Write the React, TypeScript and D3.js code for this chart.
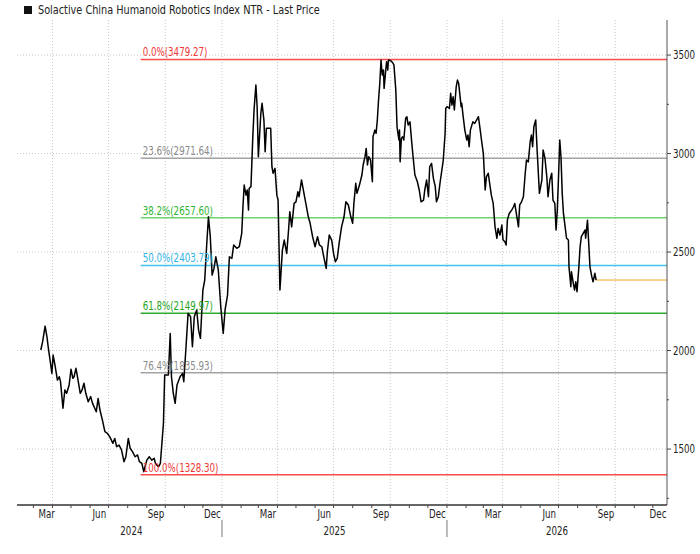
import * as d3 from 'd3';

// days since 2024-01-01, last price
const BASE = new Date(2024, 0, 1);
const closes: [number, number][] = [
  [72, 2003], [75, 2045], [79, 2124], [82, 2070], [84, 2019], [87, 1952], [90, 1884], [92, 1977], [95, 1926], [99, 1850],
  [102, 1867], [104, 1842], [108, 1707], [111, 1800], [114, 1783], [118, 1825], [121, 1905], [124, 1859], [126, 1867], [129, 1910],
  [131, 1876], [136, 1783], [139, 1800], [142, 1834], [145, 1783], [149, 1740], [153, 1766], [156, 1732], [162, 1689], [165, 1757],
  [168, 1698], [172, 1647], [176, 1588], [180, 1580], [184, 1562], [189, 1529], [192, 1554], [195, 1512], [199, 1520], [203, 1495],
  [207, 1436], [210, 1461], [214, 1554], [217, 1504], [221, 1486], [225, 1461], [229, 1470], [232, 1436], [236, 1427], [239, 1385],
  [244, 1444], [248, 1461], [252, 1444], [256, 1453], [258, 1427], [263, 1410], [266, 1427], [271, 1631], [273, 1876], [279, 1876],
  [282, 2087], [284, 1867], [287, 1783], [290, 1732], [293, 1825], [298, 1867], [302, 1884], [304, 1842], [308, 2037], [311, 2189],
  [315, 2172], [318, 2019], [321, 2172], [325, 2206], [328, 2104], [331, 2062], [335, 2307], [338, 2358], [341, 2527], [344, 2679],
  [347, 2578], [350, 2383], [353, 2417], [356, 2476], [360, 2409], [364, 2222], [368, 2087], [371, 2206], [375, 2282], [378, 2476],
  [382, 2468], [385, 2536], [390, 2519], [394, 2527], [398, 2595], [400, 2730], [402, 2840], [405, 2789], [407, 2815], [409, 2713],
  [410, 2823], [413, 2832], [416, 3085], [418, 3221], [421, 3348], [423, 3238], [425, 2984], [429, 3204], [431, 3255], [434, 3170],
  [436, 3009], [438, 3128], [445, 3128], [447, 2933], [449, 2900], [452, 2925], [455, 2789], [457, 2764], [460, 2307], [462, 2409],
  [464, 2510], [467, 2561], [471, 2493], [474, 2612], [476, 2705], [479, 2628], [483, 2747], [486, 2755], [489, 2806], [491, 2781],
  [495, 2866], [499, 2798], [502, 2747], [506, 2679], [509, 2646], [513, 2578], [517, 2527], [521, 2578], [524, 2536], [528, 2527],
  [530, 2493], [535, 2417], [537, 2502], [540, 2586], [544, 2561], [547, 2493], [550, 2451], [553, 2468], [556, 2544], [560, 2628],
  [564, 2679], [567, 2755], [571, 2739], [575, 2679], [578, 2646], [580, 2747], [583, 2849], [585, 2798], [589, 2840], [593, 2891],
  [595, 2942], [598, 2984], [600, 3026], [602, 2942], [604, 2984], [607, 2967], [610, 2857], [611, 3085], [614, 3119], [616, 3103],
  [618, 3170], [620, 3272], [622, 3356], [624, 3475], [626, 3399], [628, 3424], [629, 3331], [632, 3433], [633, 3466], [635, 3424],
  [636, 3475], [640, 3471], [643, 3461], [645, 3449], [648, 3322], [650, 3136], [653, 3069], [654, 3119], [655, 2958], [657, 3077],
  [659, 3085], [661, 3069], [664, 3179], [666, 3187], [668, 3145], [671, 3161], [674, 3052], [676, 2984], [679, 2891], [683, 2857],
  [686, 2815], [689, 2755], [693, 2764], [695, 2815], [698, 2866], [701, 2781], [703, 2933], [706, 2950], [709, 2874], [712, 2832],
  [714, 2755], [717, 2781], [720, 2857], [722, 2900], [725, 2967], [728, 3103], [729, 3229], [731, 3238], [735, 3229], [737, 3306],
  [739, 3246], [741, 3288], [743, 3221], [746, 3339], [748, 3373], [750, 3356], [752, 3297], [754, 3238], [755, 3255], [757, 3195],
  [760, 3119], [763, 3069], [765, 3094], [767, 3035], [769, 3119], [773, 3161], [776, 3153], [779, 3170], [782, 3187], [785, 3119],
  [787, 3069], [790, 3001], [793, 2815], [795, 2882], [798, 2900], [801, 2832], [803, 2789], [806, 2747], [809, 2628], [812, 2570],
  [814, 2620], [817, 2586], [820, 2637], [822, 2561], [825, 2552], [827, 2536], [829, 2662], [832, 2696], [836, 2713], [839, 2730],
  [841, 2747], [844, 2688], [847, 2628], [849, 2739], [852, 2755], [855, 2781], [858, 2900], [860, 2967], [863, 2958], [866, 3060],
  [868, 3094], [870, 3035], [872, 3136], [875, 3170], [877, 3035], [881, 2798], [883, 2832], [885, 2866], [887, 3018], [890, 2976],
  [893, 2882], [895, 2781], [898, 2866], [901, 2900], [903, 2764], [906, 2747], [908, 2612], [910, 2713], [912, 2882], [914, 3069],
  [916, 2984], [918, 2798], [920, 2696], [922, 2646], [925, 2570], [928, 2561], [929, 2425], [932, 2324], [933, 2400], [936, 2341],
  [938, 2307], [940, 2349], [942, 2299], [945, 2425], [947, 2527], [949, 2578], [952, 2595], [955, 2612], [956, 2570], [959, 2662],
  [961, 2544], [963, 2425], [966, 2375], [968, 2349], [971, 2392], [973, 2358],
];

// Fibonacci retracement lines (drawn levels) and their labels
const fibStartDay = 234;
const fibLevels = [3478, 2976, 2674, 2432, 2189, 1887, 1370];
const fibLabels = [
  '0.0%(3479.27)', '23.6%(2971.64)', '38.2%(2657.60)', '50.0%(2403.79)',
  '61.8%(2149.97)', '76.4%(1835.93)', '100.0%(1328.30)',
];
const fibLineColors = ['#ff4d4d', '#a3a3a3', '#6fd46f', '#45c3ef', '#2eab2e', '#a3a3a3', '#ff4d4d'];
const fibTextColors = ['#f03535', '#8a8a8a', '#2fb52f', '#2bb3e6', '#22a322', '#8a8a8a', '#f03535'];

const yTicks = [1500, 2000, 2500, 3000, 3500];
const yMinorTicks = [1250, 1750, 2250, 2750, 3250];
const monthLabels = ['Mar', 'Jun', 'Sep', 'Dec'];
const title = 'Solactive China Humanoid Robotics Index NTR - Last Price';

const FONT = '"Liberation Sans Narrow", "Arial Narrow", "DejaVu Sans Condensed", "Liberation Sans", sans-serif';
const W = 700;
const H = 554;
const left = 17;
const right = 667;
const top = 20;
const bottom = 505;
const NARROW = 0.84; // horizontal squeeze to mimic the terminal's narrow face

const dayToDate = (d: number) => new Date(BASE.getTime() + d * 864e5);

function Label({ x, y, children, anchor = 'start', size = 11.5, fill = '#222', sx = NARROW, dy }: {
  x: number; y: number; children: string | number; anchor?: string; size?: number; fill?: string; sx?: number; dy?: string;
}) {
  return (
    <text transform={`translate(${x},${y}) scale(${sx},1)`} textAnchor={anchor} fontSize={size} fill={fill} dy={dy}>
      {children}
    </text>
  );
}

export default function App() {
  const x = d3.scaleTime().domain([dayToDate(33.4), dayToDate(1088)]).range([left, right]);
  const y = d3.scaleLinear().domain([1216, 3678]).range([bottom, top]);

  const line = d3.line<[number, number]>()
    .x(d => x(dayToDate(d[0])))
    .y(d => y(d[1]));

  const [d0, d1] = x.domain();
  const firstDate = dayToDate(closes[0][0]);
  const last = closes[closes.length - 1];

  const months = d3.timeMonth.range(d3.timeMonth.ceil(d0), d1);
  const quarters = months.filter(m => m.getMonth() % 3 === 0);
  const labelMonths = d3.timeMonth.range(d3.timeMonth.floor(firstDate), d1)
    .filter(m => monthLabels.includes(d3.timeFormat('%b')(m)));
  const years = d3.timeYear.range(d3.timeYear.floor(firstDate), d1);
  const yearBreaks = d3.timeYear.range(d3.timeYear.ceil(d0), d1);

  const span = (a: Date, b: Date) => {
    const s = a < firstDate ? firstDate : a;
    const e = b > d1 ? d1 : b;
    return (x(s) + x(e)) / 2;
  };

  return (
    <svg width={W} height={H} style={{ position: 'absolute', left: 0, top: 0, background: '#fff' }}
      fontFamily={FONT}>
      {/* legend */}
      <rect x={24} y={6} width={8} height={8} fill="#111" />
      <Label x={38} y={14} size={12} sx={0.9}>{title}</Label>

      {/* grid */}
      {yTicks.map(t => (
        <line key={`gy${t}`} x1={left} x2={right} y1={y(t)} y2={y(t)}
          stroke="#c8c8c8" strokeWidth={1} strokeDasharray="1,2" />
      ))}
      {quarters.map(q => (
        <line key={`gx${+q}`} x1={x(q)} x2={x(q)} y1={top} y2={bottom}
          stroke="#c8c8c8" strokeWidth={1} strokeDasharray="1,2" />
      ))}

      {/* fibonacci lines */}
      {fibLevels.map((v, i) => (
        <line key={`fib${i}`} x1={x(dayToDate(fibStartDay))} x2={right} y1={y(v)} y2={y(v)}
          stroke={fibLineColors[i]} strokeWidth={1.5} />
      ))}
      <line x1={x(dayToDate(last[0]))} x2={right} y1={y(last[1])} y2={y(last[1])}
        stroke="#f5a623" strokeWidth={1} />

      {/* price */}
      <path d={line(closes) ?? ''} fill="none" stroke="#000" strokeWidth={1.5} strokeLinejoin="round" />

      {/* fib labels */}
      {fibLevels.map((v, i) => (
        <Label key={`fl${i}`} x={x(dayToDate(fibStartDay)) + 2} y={y(v) - 3} fill={fibTextColors[i]}>
          {fibLabels[i]}
        </Label>
      ))}

      {/* right axis */}
      <line x1={right} x2={right} y1={top} y2={bottom} stroke="#555" strokeWidth={1} />
      {yTicks.map(t => (
        <g key={`yt${t}`}>
          <line x1={right} x2={right + 4} y1={y(t)} y2={y(t)} stroke="#444" />
          <Label x={right + 6} y={y(t)} dy="0.35em">{t}</Label>
        </g>
      ))}
      {yMinorTicks.map(t => (
        <line key={`ym${t}`} x1={right} x2={right + 2} y1={y(t)} y2={y(t)} stroke="#444" />
      ))}

      {/* bottom axis */}
      <line x1={left} x2={right} y1={bottom} y2={bottom} stroke="#333" strokeWidth={1.5} />
      {months.map(m => (
        <line key={`mt${+m}`} x1={x(m)} x2={x(m)} y1={bottom} y2={bottom + 3} stroke="#444" />
      ))}
      {labelMonths.map(m => {
        const c = Math.min(span(m, d3.timeMonth.offset(m, 1)), right - 9);
        return (
          <Label key={`ml${+m}`} x={c} y={518} anchor="middle">{d3.timeFormat('%b')(m)}</Label>
        );
      })}
      {yearBreaks.map(yb => (
        <line key={`yb${+yb}`} x1={x(yb)} x2={x(yb)} y1={520} y2={537} stroke="#777" />
      ))}
      {years.map(yr => (
        <Label key={`yl${+yr}`} x={span(yr, d3.timeYear.offset(yr, 1))} y={535} anchor="middle">
          {d3.timeFormat('%Y')(yr)}
        </Label>
      ))}
    </svg>
  );
}
